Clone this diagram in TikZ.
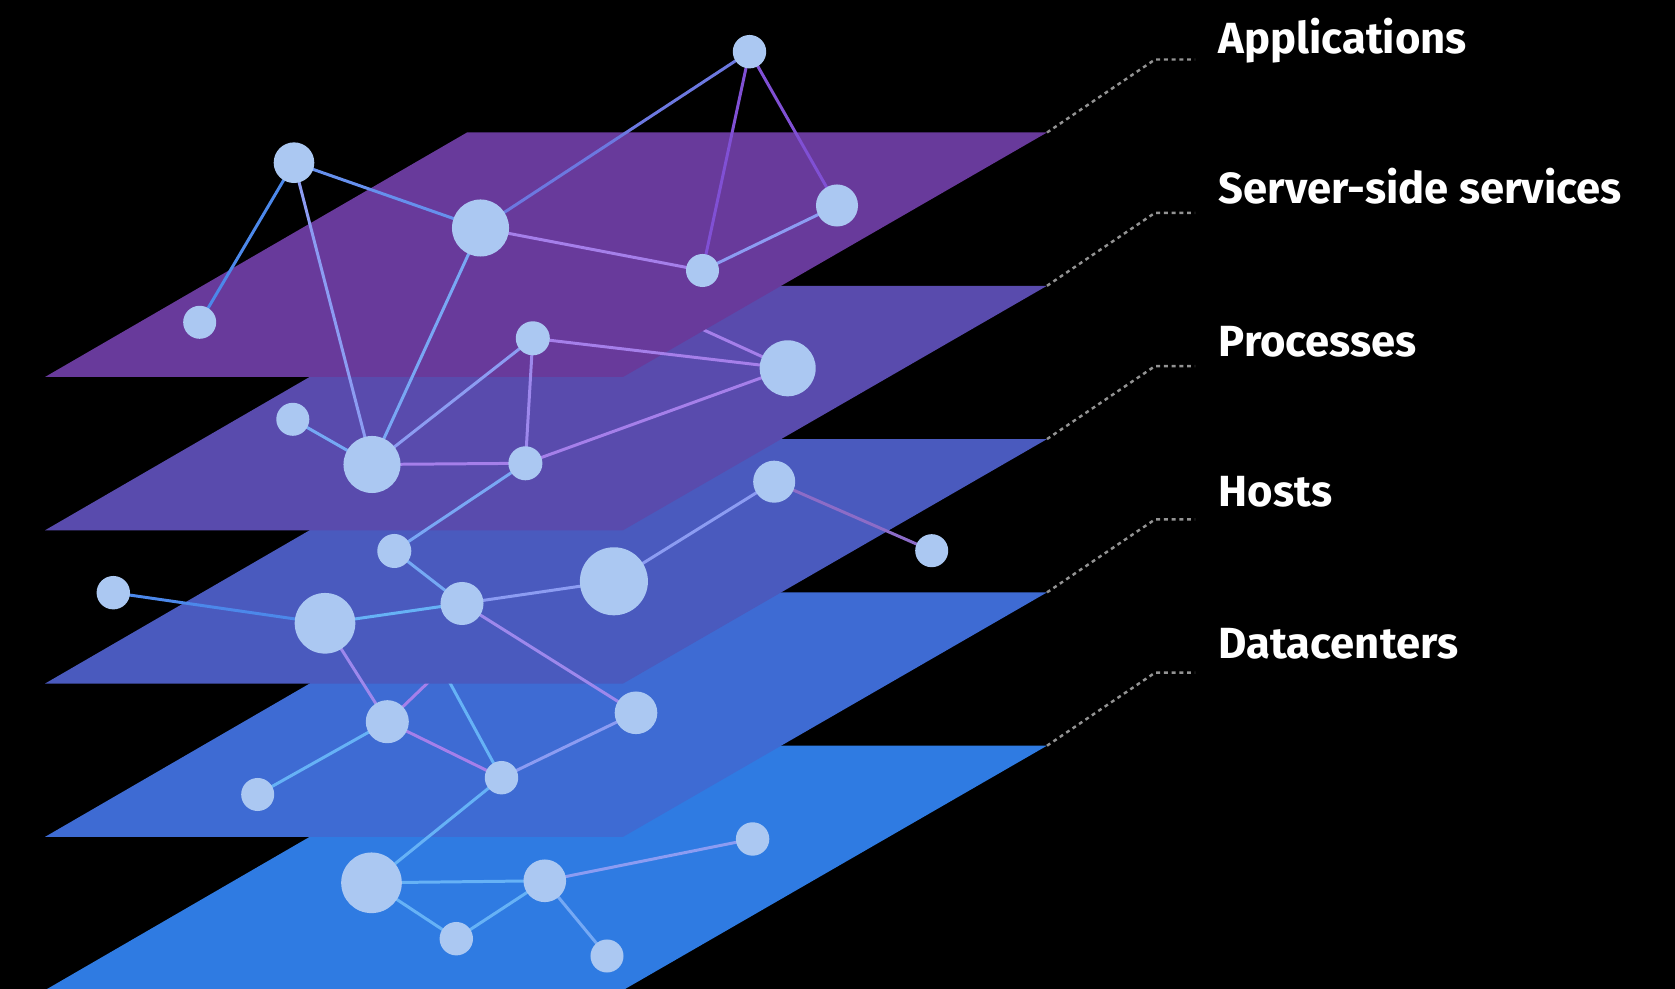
\documentclass[tikz,border=0pt]{standalone}
\usepackage{fontspec}
\setmainfont{Fira Sans}

\definecolor{appplane}{HTML}{683A9B}
\definecolor{svcplane}{HTML}{594BAD}
\definecolor{procplane}{HTML}{4A5ABE}
\definecolor{hostplane}{HTML}{3E6BD3}
\definecolor{dcplane}{HTML}{2F7BE2}
\definecolor{dotfill}{HTML}{ABC8F2}
\definecolor{lkviolet}{HTML}{8050D4}
\definecolor{lkindigo}{HTML}{6C78E0}
\definecolor{lkblue}{HTML}{4C88EA}
\definecolor{lkperi}{HTML}{8C9CF2}
\definecolor{lklilac}{HTML}{A57FEA}
\definecolor{lksky}{HTML}{66B2F6}

\tikzset{
  dot/.style={circle,fill=dotfill,inner sep=0pt,minimum size=#1*0.02cm},
  link/.style={line width=0.85pt,draw=#1},
  leader/.style={draw=gray!85,line width=0.7pt,dash pattern=on 1.1pt off 1.1pt},
  layername/.style={text=white,font=\fontsize{12.4}{15}\selectfont\bfseries,inner sep=0pt,anchor=base west}
}

% one layer: top edge y, colour, name of its top right corner
\newcommand{\plane}[3]{%
  \fill[#2] (45,#1+244.5) -- (623,#1+244.5) -- (1047,#1) coordinate (#3) -- (467,#1) -- cycle;}

% name/x/y/radius
\newcommand{\dotlist}{a1/749.5/51.7/16.7, a2/294/162.7/20.3, a3/480.5/228/28.5,
  a4/837/205.5/21, a5/702.5/270.5/16.5, a6/199.7/322.3/16.5,
  s1/532.8/338.3/17, s2/787.7/368.3/28, s3/292.8/419.3/16.5,
  s4/372/464.5/28.5, s5/525.4/463.3/17,
  p1/774.2/481.7/21, p2/931.7/550.7/16.5, p3/394.3/551/17,
  p4/113.3/592.7/16.7, p5/325/623.3/30.3, p6/462/603.5/21.5, p7/613.9/581.3/34,
  h1/387.3/721.7/21.5, h2/636/712.8/21.3, h3/257.7/794.5/16.5, h4/501.5/777.7/16.7,
  d1/371.5/882.8/30.3, d2/544.8/880.8/21.3, d3/752.6/839/16.7,
  d4/456.3/938.7/16.7, d5/607/956/16.5}

\begin{document}
\begin{tikzpicture}[x=0.01cm,y=-0.01cm]
\fill[black] (0,0) rectangle (1675,989);
\useasboundingbox (0,0) rectangle (1675,989);

\foreach \n/\x/\y/\r in \dotlist
  \coordinate (\n) at (\x,\y);
\coordinate (hA) at (466,646);
\coordinate (hB) at (425,637);

% layers, bottom first
\plane{745.7}{dcplane}{dc}
\plane{592.4}{hostplane}{host}
\draw[link=lklilac] (h1) -- (hA);
\draw[link=lksky] (h4) -- (hB);
\plane{439.1}{procplane}{proc}
\plane{285.8}{svcplane}{svc}
\draw[link=lklilac] (a3) -- (s2);
\plane{132.5}{appplane}{app}

% leaders and names
\foreach \c in {app,svc,proc,host,dc}
  \draw[leader] (\c) -- ++(108,-73) -- ++(40,0);
\node[layername] (lapp) at (1218,53.3) {Applications};
\node[layername] (lsvc) at (1218,204) {Server-side services};
\node[layername] (lproc) at (1218,356.7) {Processes};
\node[layername] (lhost) at (1218,506.7) {Hosts};
\node[layername] (ldc) at (1218,658.3) {Datacenters};

% links
\draw[link=lkindigo] (a1) -- (a3);
\draw[link=lkviolet] (a1) -- (a5);
\draw[link=lkviolet] (a1) -- (a4);
\draw[link=lkblue] (a2) -- (a6);
\draw[link=lkblue!60!lkperi] (a2) -- (a3);
\draw[link=lkperi] (a2) -- (s4);
\draw[link=lklilac] (a3) -- (a5);
\draw[link=lkperi] (a5) -- (a4);
\draw[link=lksky!50!lkperi] (a3) -- (s4);
\draw[link=lklilac] (s1) -- (s2);
\draw[link=lkperi] (s1) -- (s4);
\draw[link=lklilac!70!lkperi] (s1) -- (s5);
\draw[link=lksky!60!lkperi] (s3) -- (s4);
\draw[link=lklilac] (s4) -- (s5);
\draw[link=lklilac] (s5) -- (s2);
\draw[link=lksky!50!lkperi] (s5) -- (p3);
\draw[link=lksky!60!lkperi] (p3) -- (p6);
\draw[link=lkblue] (p4) -- (p5);
\draw[link=lksky] (p5) -- (p6);
\draw[link=lkperi] (p6) -- (p7);
\draw[link=lkperi] (p7) -- (p1);
\draw[link=lklilac!85!black] (p1) -- (p2);
\draw[link=lklilac!70!lkperi] (p5) -- (h1);
\draw[link=lklilac!70!lkperi] (p6) -- (h2);
\draw[link=lksky] (h1) -- (h3);
\draw[link=lklilac] (h1) -- (h4);
\draw[link=lkperi] (h4) -- (h2);
\draw[link=lksky] (h4) -- (d1);
\draw[link=lksky] (d1) -- (d2);
\draw[link=lksky] (d1) -- (d4);
\draw[link=lksky] (d4) -- (d2);
\draw[link=lkperi] (d2) -- (d3);
\draw[link=lksky!60!lkperi] (d2) -- (d5);

% dots
\foreach \n/\x/\y/\r in \dotlist
  \node[dot=\r] (\n-dot) at (\n) {};
\end{tikzpicture}
\end{document}
